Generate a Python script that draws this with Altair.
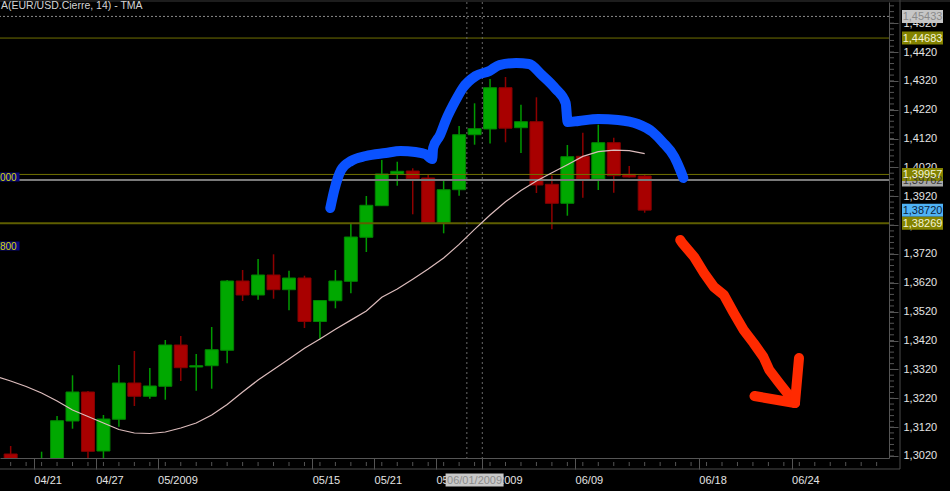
import altair as alt
import pandas as pd

# ---------------- EUR/USD daily candles (slot = trading-day position) ----------------
dates = ["04/17", "04/20", "04/21", "04/22", "04/23", "04/24", "04/27", "04/28", "04/29", "04/30",
         "05/01", "05/04", "05/05", "05/06", "05/07", "05/08", "05/11", "05/12", "05/13", "05/14",
         "05/15", "05/18", "05/19", "05/20", "05/21", "05/22", "05/25", "05/26", "05/27", "05/28",
         "05/29", "06/01", "06/02", "06/03", "06/04", "06/05", "06/08", "06/09", "06/10", "06/11",
         "06/12", "06/15"]
slots = list(range(-2, 40))

opens = [1.30269, 1.29980, 1.29300, 1.29900, 1.31413, 1.32418, 1.30373, 1.31472, 1.32730, 1.32269,
         1.32615, 1.34046, 1.33284, 1.33329, 1.33863, 1.36264, 1.35779, 1.36472, 1.35963, 1.36368,
         1.34861, 1.35581, 1.36254, 1.37779, 1.38874, 1.39972, 1.40076, 1.39834, 1.38285, 1.39428,
         1.41334, 1.41532, 1.42963, 1.41577, 1.41785, 1.39615, 1.38957, 1.40586, 1.39799, 1.41057,
         1.39962, 1.39903]
highs = [1.30546, 1.30080, 1.30349, 1.31586, 1.32996, 1.32452, 1.31621, 1.33353, 1.33838, 1.33249,
         1.34220, 1.34358, 1.33734, 1.34670, 1.36299, 1.36645, 1.37027, 1.37189, 1.36621, 1.36448,
         1.35600, 1.36645, 1.38240, 1.39210, 1.40457, 1.40398, 1.40170, 1.39938, 1.39799, 1.41636,
         1.42422, 1.43264, 1.43334, 1.42374, 1.42630, 1.39920, 1.40977, 1.41403, 1.41681, 1.41230,
         1.40249, 1.39950]
lows = [1.29853, 1.28900, 1.28880, 1.29600, 1.31146, 1.30061, 1.30050, 1.31215, 1.31932, 1.32185,
        1.32151, 1.32799, 1.32463, 1.32532, 1.33412, 1.35571, 1.35616, 1.35651, 1.35249, 1.34635,
        1.34247, 1.35318, 1.35838, 1.37269, 1.38860, 1.39567, 1.38576, 1.38270, 1.37917, 1.39220,
        1.40988, 1.41029, 1.41071, 1.40700, 1.39314, 1.38056, 1.38527, 1.39151, 1.39418, 1.39324,
        1.39850, 1.38631]
closes = [1.29957, 1.29250, 1.29900, 1.31423, 1.32418, 1.30363, 1.31482, 1.32730, 1.32269, 1.32626,
          1.34046, 1.33260, 1.33329, 1.33883, 1.36264, 1.35779, 1.36472, 1.35963, 1.36368, 1.34861,
          1.35588, 1.36264, 1.37789, 1.38888, 1.39972, 1.40066, 1.39809, 1.38285, 1.39428, 1.41334,
          1.41542, 1.42963, 1.41559, 1.41785, 1.39591, 1.38957, 1.40572, 1.39799, 1.41057, 1.39913,
          1.39868, 1.38720]

# triangular moving average (14)
tma_slots = list(range(-3, 40))
tma = [1.32972, 1.32799, 1.32608, 1.32383, 1.32106, 1.31794, 1.31569, 1.31343, 1.31118, 1.30997,
       1.30979, 1.31031, 1.31170, 1.31343, 1.31621, 1.31984, 1.32418, 1.32833, 1.33197, 1.33561,
       1.33935, 1.34254, 1.34590, 1.34909, 1.35225, 1.35699, 1.35987, 1.36327, 1.36680, 1.37061,
       1.37533, 1.38052, 1.38551, 1.39009, 1.39400, 1.39730, 1.40014, 1.40291, 1.40582, 1.40745,
       1.40797, 1.40783, 1.40679]

# date axis
x_tick_slots = [-0.5, 3.5, 7.5, 17.5, 21.5, 25.5, 28.5, 34.5, 42.5, 48.5]
x_tick_labels = ["04/21", "04/27", "05/2009", "05/15", "05/21", "05/27", "06/2009", "06/09", "06/18", "06/24"]
cursor_slots = [27.5, 28.5]
cursor_date = "06/01/2009"
cursor_slot = 28.0

# price axis
y_ticks = [1.3020, 1.3120, 1.3220, 1.3320, 1.3420, 1.3520, 1.3620, 1.3720, 1.3820,
           1.3920, 1.4020, 1.4120, 1.4220, 1.4320, 1.4420, 1.4520]

# horizontal levels
dotted_levels = [1.45433]
solid_levels = [1.44683, 1.39957, 1.39762, 1.38269]
solid_colors = ["#707000", "#707000", "#7a7a7a", "#5e5e00"]
solid_widths = [1, 1, 2, 2]

# price tags on the right edge
tag_values = [1.45433, 1.44683, 1.39762, 1.39957, 1.38720, 1.38269]
tag_texts = ["1,45433", "1,44683", "1,39762", "1,39957", "1,38720", "1,38269"]
tag_fill = ["#c6c6c6", "#838300", "#a8a8a8", "#838300", "#4fb2f5", "#838300"]
tag_ink = ["#8a8a8a", "#f4f4d8", "#3a3a3a", "#f4f4d8", "#0b1e3c", "#f4f4d8"]

# level tags on the left edge
left_values = [1.39868, 1.37477]
left_texts = ["000", "800"]

# hand-drawn markup: head-and-shoulders outline and the down arrow
blue_x = [18.67, 18.93, 19.37, 20.01, 20.97, 22.25, 23.21, 24.17, 24.81, 25.26, 25.32, 25.77, 26.15,
          26.79, 27.24, 28.07, 28.96, 29.60, 30.69, 31.52, 32.35, 33.25, 33.89, 34.02, 34.72, 36.00,
          37.28, 38.55, 39.51, 40.15, 40.92, 41.30, 41.50]
blue_y = [1.38794, 1.39418, 1.40111, 1.40423, 1.40596, 1.40700, 1.40769, 1.40735, 1.40665, 1.40492,
          1.40873, 1.41324, 1.41844, 1.42537, 1.42952, 1.43368, 1.43542, 1.43749, 1.43819, 1.43784,
          1.43403, 1.42918, 1.42433, 1.41774, 1.41809, 1.41878, 1.41844, 1.41705, 1.41428, 1.41081,
          1.40561, 1.40111, 1.39834]
red_x = [41.30, 41.43, 42.20, 42.84, 43.48, 44.12, 44.76, 45.40, 46.04, 46.68, 47.06, 47.70, 48.72,
         46.10, 48.72,
         48.72, 48.98]
red_y = [1.37685, 1.37581, 1.37096, 1.36541, 1.36056, 1.35779, 1.35155, 1.34566, 1.34116, 1.33631,
         1.33180, 1.32730, 1.32036,
         1.32279, 1.32036,
         1.32036, 1.33596]
red_stroke = [0] * 13 + [1, 1] + [2, 2]

title_text = "A(EUR/USD.Cierre, 14) - TMA"

# ---------------- tables ----------------
candles = pd.DataFrame({"date": dates, "slot": slots, "open": opens, "high": highs,
                        "low": lows, "close": closes})
candles["dir"] = ["up" if c >= o else "down" for o, c in zip(opens, closes)]
tma_df = pd.DataFrame({"slot": tma_slots, "tma": tma})
blue_df = pd.DataFrame({"slot": blue_x, "price": blue_y, "seq": range(len(blue_x))})
red_df = pd.DataFrame({"slot": red_x, "price": red_y, "stroke": red_stroke, "seq": range(len(red_x))})
dotted_df = pd.DataFrame({"level": dotted_levels})
solid_df = pd.DataFrame({"level": solid_levels, "col": solid_colors, "w": solid_widths})
tags_df = pd.DataFrame({"level": tag_values, "label": tag_texts, "bg": tag_fill, "ink": tag_ink})
left_df = pd.DataFrame({"level": left_values, "label": left_texts})
cursor_df = pd.DataFrame({"slot": cursor_slots})
cursor_tag_df = pd.DataFrame({"slot": [cursor_slot], "label": [cursor_date]})
title_df = pd.DataFrame({"t": [title_text]})
minor_x_df = pd.DataFrame({"slot": list(range(-2, 55))})
minor_y_df = pd.DataFrame({"level": [round(1.302 + 0.002 * k, 4) for k in range(79)]})

# ---------------- scales & axes ----------------
W, H = 889, 456
FONT = "Liberation Sans"
GRID = "#555555"

x_scale = alt.Scale(domain=[-2.366, 54.476], nice=False, zero=False)
y_scale = alt.Scale(domain=[1.301306, 1.459327], nice=False, zero=False)

label_expr = "''"
for s, lab in reversed(list(zip(x_tick_slots, x_tick_labels))):
    label_expr = f"abs(datum.value - ({s})) < 0.01 ? '{lab}' : {label_expr}"

x_axis = alt.Axis(values=x_tick_slots, labelExpr=label_expr, title=None, grid=False,
                  orient="bottom", tickSize=11, tickColor=GRID, domainColor=GRID,
                  labelColor="#e4e4e4", labelFont=FONT, labelFontSize=11,
                  labelAlign="left", labelBaseline="middle", labelPadding=11,
                  labelFlush=False, labelOverlap=False)
y_axis = alt.Axis(values=y_ticks, labelExpr="replace(format(datum.value, '.4f'), '.', ',')",
                  title=None, grid=False, orient="right", tickSize=9, tickColor=GRID,
                  domainColor=GRID, labelColor="#e4e4e4", labelFont=FONT, labelFontSize=11,
                  labelAlign="left", labelBaseline="middle", labelPadding=5,
                  labelFlush=False, labelOverlap=False)


def X(field):
    return alt.X(field, type="quantitative", scale=x_scale, axis=x_axis)


def Y(field):
    return alt.Y(field, type="quantitative", scale=y_scale, axis=y_axis)


dir_dom = ["up", "down"]

wicks = alt.Chart(candles).mark_rule(strokeWidth=1.5, clip=True).encode(
    x=X("slot"), y=Y("low"), y2="high",
    color=alt.Color("dir:N", scale=alt.Scale(domain=dir_dom, range=["#009a00", "#8e0000"]), legend=None),
)
bodies = alt.Chart(candles).mark_bar(size=13, strokeWidth=1, clip=True).encode(
    x=X("slot"), y=Y("open"), y2="close",
    fill=alt.Fill("dir:N", scale=alt.Scale(domain=dir_dom, range=["#00a800", "#a80000"]), legend=None),
    stroke=alt.Stroke("dir:N", scale=alt.Scale(domain=dir_dom, range=["#008400", "#860000"]), legend=None),
)

dotted = alt.Chart(dotted_df).mark_rule(color="#8a8a8a", strokeDash=[2, 2], strokeWidth=1).encode(
    y=Y("level"))
solid = alt.Chart(solid_df).mark_rule().encode(
    y=Y("level"),
    color=alt.Color("col:N", scale=None),
    strokeWidth=alt.StrokeWidth("w:Q", scale=None),
)

cursor = alt.Chart(cursor_df).mark_rule(color="#6a6a6a", strokeDash=[2, 3], strokeWidth=1).encode(
    x=X("slot"))

tma_line = alt.Chart(tma_df).mark_line(color="#dcbcbc", strokeWidth=1.2, clip=True).encode(
    x=X("slot"), y=Y("tma"))

blue = alt.Chart(blue_df).mark_line(color="#0a52ff", strokeWidth=10, strokeCap="round",
                                    strokeJoin="round", interpolate="monotone").encode(
    x=X("slot"), y=Y("price"), order="seq:Q")
red = alt.Chart(red_df).mark_line(color="#ff2a00", strokeWidth=10, strokeCap="round",
                                  strokeJoin="round").encode(
    x=X("slot"), y=Y("price"), detail="stroke:N", order="seq:Q")

# axis furniture: minor ticks and panel frame
minor_x = alt.Chart(minor_x_df).mark_rule(color=GRID, clip=False).encode(
    x=X("slot"), y=alt.value(H + 4), y2=alt.value(H + 8))
minor_y = alt.Chart(minor_y_df).mark_rule(color=GRID, clip=False).encode(
    y=Y("level"), x=alt.value(W + 1), x2=alt.value(W + 5))
frame_df = pd.DataFrame({"k": [0]})
frame_right = alt.Chart(frame_df).mark_rule(color="#4a4a4a").encode(
    x=alt.value(W + 11), y=alt.value(-2), y2=alt.value(H + 11))
frame_bottom = alt.Chart(frame_df).mark_rule(color="#4a4a4a").encode(
    x=alt.value(0), x2=alt.value(W + 11), y=alt.value(H + 11))
frame_top = alt.Chart(frame_df).mark_rule(color="#3a3a3a").encode(
    x=alt.value(0), x2=alt.value(W + 61), y=alt.value(-1))

# right-edge price tags
tag_shape = "M-1,-0.317H1V0.317H-1Z"
tag_box = alt.Chart(tags_df).mark_point(shape=tag_shape, size=1681, filled=True, opacity=1,
                                        strokeWidth=0, clip=False).encode(
    x=alt.value(922.5), y=Y("level"), color=alt.Color("bg:N", scale=None))
tag_txt = alt.Chart(tags_df).mark_text(font=FONT, fontSize=11, align="center",
                                       baseline="middle", dy=1, clip=False).encode(
    x=alt.value(922.5), y=Y("level"), text="label:N", color=alt.Color("ink:N", scale=None))

# left-edge level tags
left_box = alt.Chart(left_df).mark_point(shape="M-1,-0.45H1V0.45H-1Z", size=400, filled=True,
                                         opacity=1, strokeWidth=0, color="#08087a").encode(
    x=alt.value(9.5), y=Y("level"))
left_txt = alt.Chart(left_df).mark_text(font=FONT, fontSize=10, align="left", baseline="middle",
                                        color="#d6d600", dy=1).encode(
    x=alt.value(0), y=Y("level"), text="label:N")

# cursor date tag on the time axis
cursor_box = alt.Chart(cursor_tag_df).mark_point(shape="M-1,-0.224H1V0.224H-1Z", size=3364,
                                                 filled=True, opacity=1, strokeWidth=0,
                                                 color="#c8c8c8", clip=False).encode(
    x=X("slot"), y=alt.value(H + 22))
cursor_txt = alt.Chart(cursor_tag_df).mark_text(font=FONT, fontSize=11, align="center",
                                                baseline="middle", color="#8c8c8c", dy=1,
                                                clip=False).encode(
    x=X("slot"), y=alt.value(H + 22), text="label:N")

title = alt.Chart(title_df).mark_text(font=FONT, fontSize=10.5, align="left", baseline="middle",
                                      color="#d4d4d4").encode(
    x=alt.value(1), y=alt.value(4), text="t:N")

chart = alt.layer(
    wicks, bodies, dotted, solid, cursor, tma_line, blue, red,
    minor_x, minor_y, frame_right, frame_bottom, frame_top,
    tag_box, tag_txt, left_box, left_txt, cursor_box, cursor_txt, title,
).properties(
    width=W, height=H,
    padding={"left": 0, "top": 2, "right": 61, "bottom": 33},
    autosize=alt.AutoSizeParams(type="none"),
).configure(background="#000000").configure_view(strokeWidth=0)

chart.save("out.html", embed_options={"renderer": "svg", "actions": False})
